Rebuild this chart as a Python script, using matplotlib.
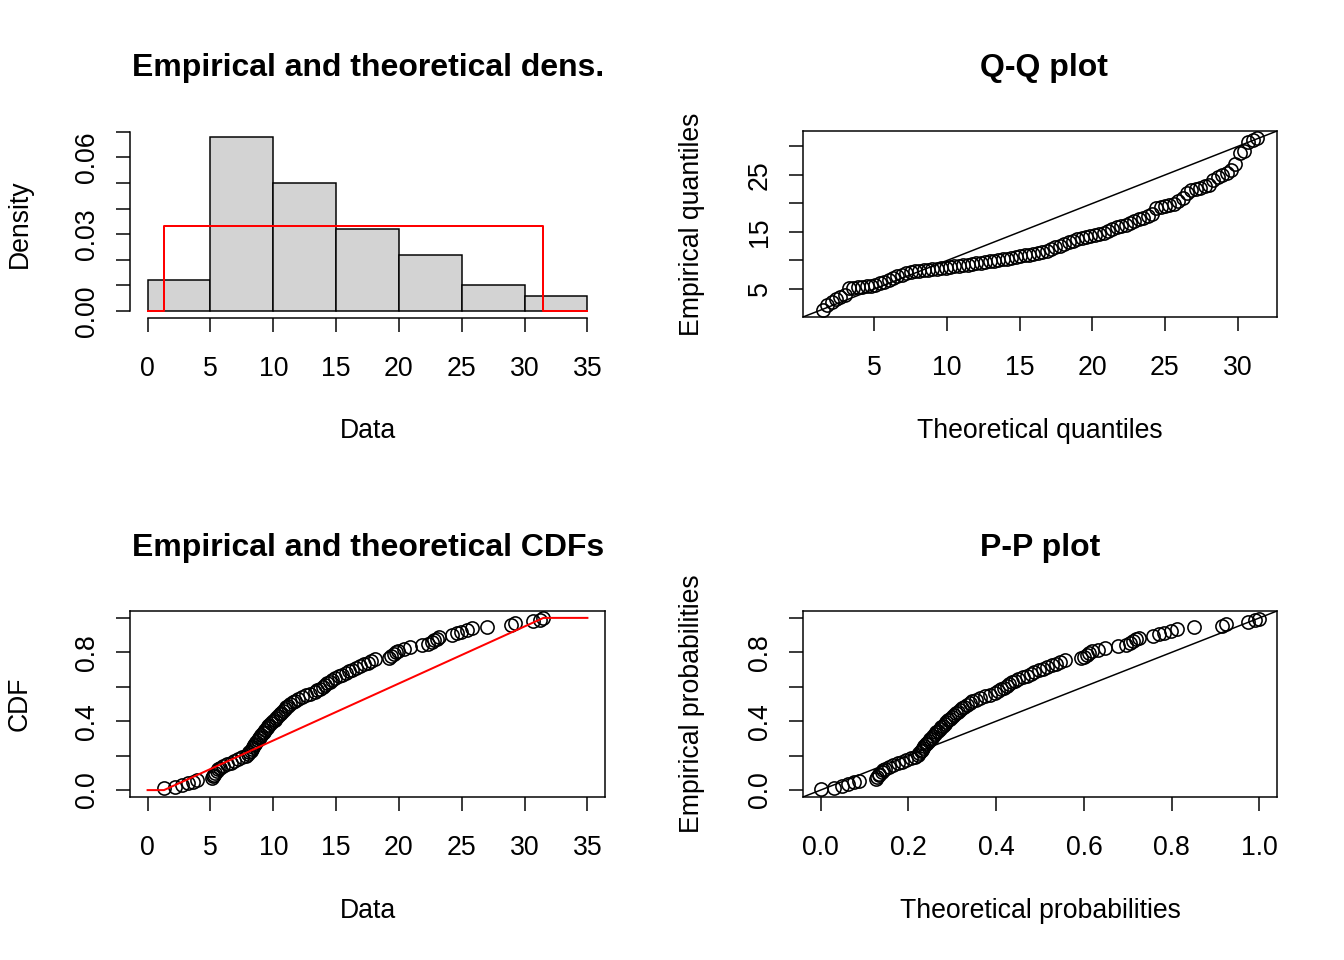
import numpy as np
import matplotlib
matplotlib.use("Agg")
import matplotlib.pyplot as plt

plt.rcParams['font.family'] = ['Liberation Sans', 'DejaVu Sans']

# ---- data (sorted sample, n = 100) ----
data = [1.30, 2.20, 2.75, 3.20, 3.60, 3.95,
        5.10, 5.20, 5.30, 5.35, 5.50, 5.60, 5.75, 6.00, 6.30, 6.60,
        6.90, 7.20, 7.50, 7.80, 8.00, 8.10, 8.20, 8.30, 8.35, 8.45,
        8.55, 8.65, 8.75, 8.85, 8.95, 9.05, 9.15, 9.25, 9.35, 9.50,
        9.60, 9.70, 9.85, 9.95,
        10.10, 10.20, 10.35, 10.50, 10.60, 10.75, 10.90, 11.05, 11.20,
        11.35, 11.55, 11.75, 12.00, 12.30, 12.60, 12.95, 13.30, 13.50,
        13.75, 13.95, 14.15, 14.30, 14.50, 14.70, 14.90,
        15.20, 15.50, 15.80, 16.00, 16.30, 16.60, 16.90, 17.20, 17.50,
        17.80, 18.10, 19.20, 19.40, 19.60, 19.80, 19.95,
        20.40, 20.90, 21.80, 22.30, 22.60, 22.80, 23.00, 23.20, 24.20,
        24.60, 24.95,
        25.40, 25.80, 27.00, 28.90, 29.20,
        30.70, 31.20, 31.50]

hist_breaks = [0, 5, 10, 15, 20, 25, 30, 35]
x_ticks_data = [0, 5, 10, 15, 20, 25, 30, 35]
dens_ticks = [0.00, 0.01, 0.02, 0.03, 0.04, 0.05, 0.06, 0.07]
dens_labels = ["0.00", "", "", "0.03", "", "", "0.06", ""]
qq_xticks = [5, 10, 15, 20, 25, 30]
qq_yticks = [5, 10, 15, 20, 25, 30]
qq_ylabels = ["5", "", "15", "", "25", ""]
prob_ticks = [0.0, 0.2, 0.4, 0.6, 0.8, 1.0]
prob_xlabels = ["0.0", "0.2", "0.4", "0.6", "0.8", "1.0"]
prob_ylabels = ["0.0", "", "0.4", "", "0.8", ""]

titles = ["Empirical and theoretical dens.", "Q-Q plot",
          "Empirical and theoretical CDFs", "P-P plot"]

# ---- derived quantities (uniform fit: MLE = min / max) ----
sdata = np.sort(np.array(data))
n = len(sdata)
a, b = sdata.min(), sdata.max()
dens_unif = 1.0 / (b - a)
pp = (np.arange(1, n + 1) - 0.5) / n
theo_q = a + (b - a) * pp
ecdf_y = np.arange(1, n + 1) / n
theo_p = (sdata - a) / (b - a)

W, H = 1344, 960
DPI = 144
fig = plt.figure(figsize=(W / DPI, H / DPI), dpi=DPI)
fig.patch.set_facecolor("white")

def ax_px(l, t, r, bt):
    return fig.add_axes([l / W, 1 - bt / H, (r - l) / W, (bt - t) / H])

def ext(lo, hi):
    d = (hi - lo) * 0.04
    return lo - d, hi + d

LW = 0.75
TICKLEN = 7.2
FS = 13.3

def style(ax, box=True):
    for s in ax.spines.values():
        s.set_linewidth(LW)
        s.set_visible(box)
    ax.tick_params(axis='both', length=TICKLEN, width=LW, labelsize=FS,
                   direction='out', colors='black')
    ax.tick_params(axis='x', pad=12)
    ax.tick_params(axis='y', pad=8)
    for lab in ax.get_yticklabels():
        lab.set_rotation(90)
        lab.set_va('center')

mk = dict(marker='o', markersize=6.6, markerfacecolor='none',
          markeredgecolor='black', markeredgewidth=0.8, linestyle='none')

# ---- panel 1: histogram + density ----
ax1 = ax_px(130, 130, 605, 318)
ax1.hist(sdata, bins=hist_breaks, density=True, color='#D3D3D3',
         edgecolor='black', linewidth=LW)
ax1.plot([0, a, a, b, b, 35], [0, 0, dens_unif, dens_unif, 0, 0],
         color='red', linewidth=1.0)
counts, _ = np.histogram(sdata, bins=hist_breaks)
dmax = max((counts / (n * 5.0)).max(), dens_unif)
ax1.set_xlim(*ext(0, 35))
ax1.set_ylim(*ext(0, dmax))
ax1.set_xticks(x_ticks_data)
ax1.set_xticklabels([str(v) for v in x_ticks_data])
ax1.set_yticks(dens_ticks)
ax1.set_yticklabels(dens_labels)
style(ax1, box=False)
ax1.spines['left'].set_visible(True)
ax1.spines['bottom'].set_visible(True)
ax1.spines['left'].set_bounds(0, 0.07)
ax1.spines['bottom'].set_bounds(0, 35)

# ---- panel 2: Q-Q ----
ax2 = ax_px(803, 131, 1277, 317)
lo = min(theo_q.min(), sdata.min()); hi = max(theo_q.max(), sdata.max())
ax2.plot(theo_q, sdata, **mk)
ax2.set_xlim(*ext(lo, hi))
ax2.set_ylim(*ext(lo, hi))
ax2.axline((0, 0), slope=1, color='black', linewidth=LW)
ax2.set_xticks(qq_xticks)
ax2.set_xticklabels([str(v) for v in qq_xticks])
ax2.set_yticks(qq_yticks)
ax2.set_yticklabels(qq_ylabels)
style(ax2)

# ---- panel 3: CDF ----
ax3 = ax_px(130, 611, 605, 797)
ax3.plot(sdata, ecdf_y, **mk)
ax3.plot([0, a, b, 35], [0, 0, 1, 1], color='red', linewidth=1.0)
ax3.set_xlim(*ext(0, 35))
ax3.set_ylim(*ext(0, 1))
ax3.set_xticks(x_ticks_data)
ax3.set_xticklabels([str(v) for v in x_ticks_data])
ax3.set_yticks(prob_ticks)
ax3.set_yticklabels(prob_ylabels)
style(ax3)

# ---- panel 4: P-P ----
ax4 = ax_px(803, 611, 1277, 797)
ax4.plot(theo_p, pp, **mk)
ax4.set_xlim(*ext(0, 1))
ax4.set_ylim(*ext(0, 1))
ax4.axline((0, 0), slope=1, color='black', linewidth=LW)
ax4.set_xticks(prob_ticks)
ax4.set_xticklabels(prob_xlabels)
ax4.set_yticks(prob_ticks)
ax4.set_yticklabels(prob_ylabels)
style(ax4)

def ftxt(x, y, s, **kw):
    fig.text(x / W, 1 - y / H, s, **kw)

tkw = dict(ha='center', va='center', fontsize=16, fontweight='bold')
ftxt(368, 68, titles[0], **tkw)
ftxt(1044, 68, titles[1], **tkw)
ftxt(368, 548, titles[2], **tkw)
ftxt(1040, 548, titles[3], **tkw)

lkw = dict(ha='center', va='center', fontsize=FS)
ftxt(368, 431, "Data", **lkw)
ftxt(1040, 431, "Theoretical quantiles", **lkw)
ftxt(368, 911, "Data", **lkw)
ftxt(1040, 911, "Theoretical probabilities", **lkw)
ftxt(20, 224, "Density", rotation=90, **lkw)
ftxt(692, 224, "Empirical quantiles", rotation=90, **lkw)
ftxt(20, 704, "CDF", rotation=90, **lkw)
ftxt(692, 704, "Empirical probabilities", rotation=90, **lkw)

fig.savefig("out.png", dpi=DPI, facecolor="white")
